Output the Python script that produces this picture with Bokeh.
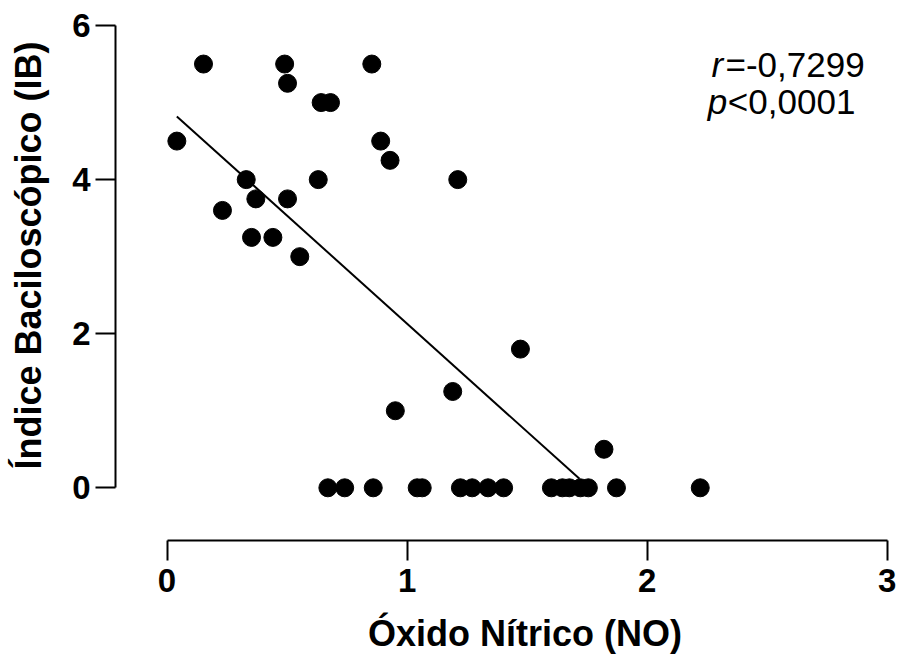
from bokeh.plotting import figure
from bokeh.models import Label, FixedTicker, Range1d
from bokeh.embed import file_html
from bokeh.resources import INLINE

# Nitric oxide (NO) vs. bacilloscopic index (IB), one point per patient
no_values = [
    0.152, 0.490, 0.502, 0.642, 0.681, 0.041, 0.853, 0.890, 0.929,
    0.330, 0.630, 1.211, 0.370, 0.502, 0.231, 0.352, 0.441, 0.553,
    0.951, 1.190, 1.472, 1.820,
    0.670, 0.740, 0.859, 1.042, 1.063, 1.222, 1.271, 1.337, 1.402,
    1.601, 1.647, 1.676, 1.722, 1.755, 1.872, 2.221,
]
ib_values = [
    5.50, 5.50, 5.25, 5.00, 5.00, 4.50, 5.50, 4.50, 4.25,
    4.00, 4.00, 4.00, 3.75, 3.75, 3.60, 3.25, 3.25, 3.00,
    1.00, 1.25, 1.80, 0.50,
    0, 0, 0, 0, 0, 0, 0, 0, 0,
    0, 0, 0, 0, 0, 0, 0,
]

# Linear regression line and its x extent
fit_slope = -2.805
fit_intercept = 4.935
fit_x = [0.041, 1.718]

x_ticks = [0, 1, 2, 3]
y_ticks = [0, 2, 4, 6]

r_text = "=-0,7299"
p_text = "<0,0001"
x_title = "Óxido Nítrico (NO)"
y_title = "Índice Baciloscópico (IB)"

FONT = "Liberation Sans"
NBSP = "\u00a0"

p = figure(
    width=899, height=668,
    output_backend="svg", toolbar_location=None,
    x_range=Range1d(-0.2145, 3.030), y_range=Range1d(-0.684, 6.195),
    min_border_left=115, min_border_right=5,
    min_border_top=10, min_border_bottom=128,
)
p.outline_line_color = None
p.background_fill_color = "white"
p.border_fill_color = "white"
p.xgrid.visible = False
p.ygrid.visible = False

for ax, ticks, bounds in ((p.xaxis[0], x_ticks, (0, 3)), (p.yaxis[0], y_ticks, (0, 6))):
    ax.ticker = FixedTicker(ticks=ticks)
    ax.bounds = bounds
    ax.axis_line_color = "black"
    ax.axis_line_width = 2
    ax.major_tick_line_color = "black"
    ax.major_tick_line_width = 2
    ax.major_tick_out = 20
    ax.major_tick_in = 0
    ax.minor_tick_line_color = None
    ax.major_label_text_font = FONT
    ax.major_label_text_font_style = "bold"
    ax.major_label_text_font_size = "33px"
    ax.major_label_text_color = "black"
    ax.axis_label_text_font = FONT
    ax.axis_label_text_font_style = "bold"
    ax.axis_label_text_font_size = "36px"
    ax.axis_label_text_color = "black"

# leading spaces keep each title centred on the bounded axis line
p.xaxis[0].axis_label = NBSP * 4 + x_title
p.yaxis[0].axis_label = NBSP * 4 + y_title
p.xaxis[0].major_label_standoff = 8
p.yaxis[0].major_label_standoff = 5
p.xaxis[0].axis_label_standoff = 18
p.yaxis[0].axis_label_standoff = 20

fit_y = [fit_intercept + fit_slope * x for x in fit_x]
p.line(fit_x, fit_y, line_color="black", line_width=2)

p.scatter(no_values, ib_values, size=18, marker="circle",
          fill_color="black", line_color="black")

# correlation statistics
stat_size = "35px"
p.add_layout(Label(x=2.268, y=5.49, text="r", text_font=FONT,
                   text_font_style="italic", text_font_size=stat_size,
                   text_baseline="alphabetic", text_color="black"))
p.add_layout(Label(x=2.326, y=5.49, text=r_text, text_font=FONT,
                   text_font_size=stat_size,
                   text_baseline="alphabetic", text_color="black"))
p.add_layout(Label(x=2.252, y=5.01, text="p", text_font=FONT,
                   text_font_style="italic", text_font_size=stat_size,
                   text_baseline="alphabetic", text_color="black"))
p.add_layout(Label(x=2.336, y=5.01, text=p_text, text_font=FONT,
                   text_font_size=stat_size,
                   text_baseline="alphabetic", text_color="black"))

open("out.html", "w").write(file_html(p, INLINE))
